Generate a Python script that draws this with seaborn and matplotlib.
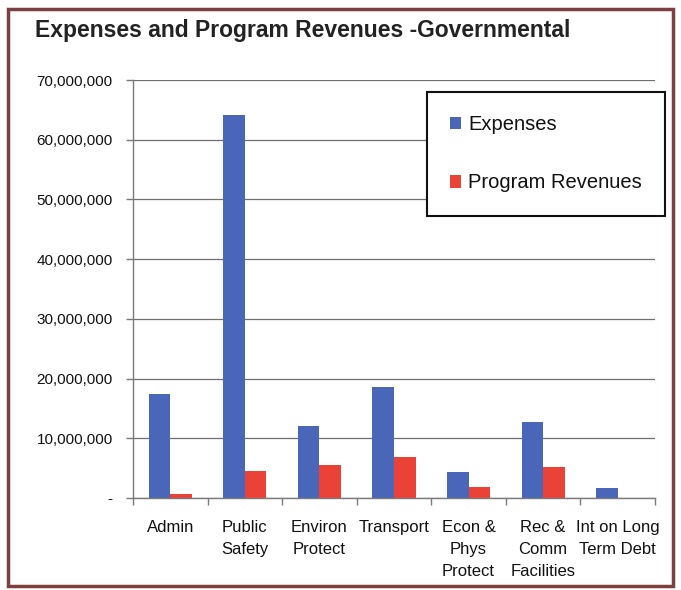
import matplotlib
matplotlib.use("Agg")
import matplotlib.pyplot as plt
from matplotlib.patches import Rectangle, Patch
from matplotlib.ticker import FuncFormatter, FixedLocator
import seaborn as sns
import pandas as pd

# Governmental functions and their totals (dollars)
categories = ["Admin", "Public\nSafety", "Environ\nProtect", "Transport",
              "Econ &\nPhys\nProtect", "Rec &\nComm\nFacilities", "Int on Long\nTerm Debt"]
expenses = [17_500_000, 64_200_000, 12_000_000, 18_600_000, 4_400_000, 12_700_000, 1_700_000]
program_revenues = [700_000, 4_500_000, 5_600_000, 6_900_000, 1_900_000, 5_200_000, 0]
series_names = ["Expenses", "Program Revenues"]
y_ticks = [0, 10_000_000, 20_000_000, 30_000_000, 40_000_000, 50_000_000, 60_000_000, 70_000_000]

df = pd.DataFrame({
    "Function": categories * 2,
    "Amount": expenses + program_revenues,
    "Series": [series_names[0]] * len(categories) + [series_names[1]] * len(categories),
})

sns.set_theme(style="white")
plt.rcParams["font.family"] = ["Liberation Sans", "DejaVu Sans"]

W, H = 681, 590
fig = plt.figure(figsize=(W / 100, H / 100), dpi=100)
ax = fig.add_axes([133 / W, 1 - 498 / H, (655 - 133) / W, (498 - 80) / H])

palette = {"Expenses": "#4a66b8", "Program Revenues": "#ea4236"}
sns.barplot(data=df, x="Function", y="Amount", hue="Series", order=categories,
            hue_order=series_names, palette=palette, width=0.58, gap=0,
            saturation=1, linewidth=0, ax=ax, legend=False)

ax.set_xlim(-0.5, len(categories) - 0.5)
ax.set_ylim(0, 70_000_000)
ax.yaxis.set_major_locator(FixedLocator(y_ticks))
ax.yaxis.set_major_formatter(FuncFormatter(lambda v, p: "-" if v == 0 else f"{int(v):,}"))
ax.grid(axis="y", color="#6f6f6f", linewidth=0.9)
ax.set_axisbelow(True)
ax.set_xlabel("")
ax.set_ylabel("")

for side in ("top", "right"):
    ax.spines[side].set_visible(False)
for side in ("left", "bottom"):
    ax.spines[side].set_color("#7a7a7a")
    ax.spines[side].set_linewidth(1.0)

ax.tick_params(axis="y", which="major", left=True, length=5, width=1, color="#7a7a7a",
               pad=9.5, labelsize=11, labelcolor="#111111")
ax.tick_params(axis="x", which="major", bottom=False, pad=9.5, labelsize=12,
               labelcolor="#111111")
ax.set_xticks(range(len(categories)))
ax.set_xticklabels(categories, linespacing=1.6, va="top", ha="center")
ax.set_xticks([i + 0.5 for i in range(-1, len(categories))], minor=True)
ax.tick_params(axis="x", which="minor", bottom=True, length=5, width=1, color="#7a7a7a")

# Legend in an outlined box at upper right
handles = [Patch(facecolor=palette[s], edgecolor="none") for s in series_names]
leg = fig.legend(handles, series_names, loc="upper left",
                 bbox_to_anchor=(427 / W, 1 - 92 / H), fontsize=14.5,
                 handlelength=0.55, handleheight=0.6, handletextpad=0.35,
                 labelspacing=1.95, borderpad=1.15, borderaxespad=0,
                 fancybox=False, framealpha=1, edgecolor="#111111")
leg.get_frame().set_linewidth(1.5)
for t in leg.get_texts():
    t.set_color("#111111")

fig.text(35 / W, 1 - 31 / H, "Expenses and Program Revenues -Governmental",
         fontsize=16.5, fontweight="bold", color="#222222", va="center", ha="left")

# Outer border around the chart
fig.patches.append(Rectangle((8 / W, 1 - 586 / H), (673 - 8) / W, (586 - 9) / H,
                             transform=fig.transFigure, fill=False,
                             edgecolor="#7d3f3f", linewidth=2.5))

fig.savefig("out.png", dpi=100)
